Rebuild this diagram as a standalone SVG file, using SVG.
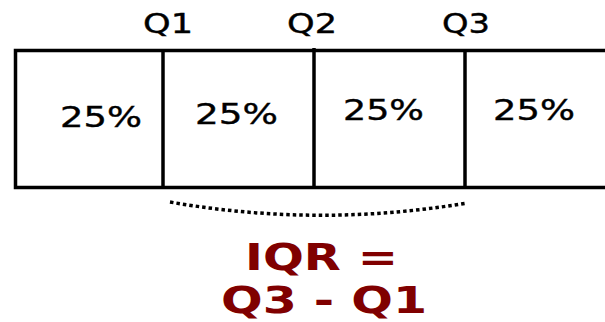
<svg xmlns="http://www.w3.org/2000/svg" width="605" height="322" viewBox="0 0 605 322">
<style>
.ln{stroke:#000;stroke-width:3.5;fill:none}
.lbl{font-family:"DejaVu Sans",sans-serif;font-size:27px;fill:#000;stroke:#000;stroke-width:0.4}
.pct{font-family:"DejaVu Sans",sans-serif;font-size:29px;fill:#000;stroke:#000;stroke-width:0.4}
.iqr{font-family:"DejaVu Sans",sans-serif;font-weight:bold;font-size:38px;fill:#800000}
</style>
<rect width="605" height="322" fill="#fff"/>
<g id="box">
<path class="ln" d="M610 50.5 H15.5 V187.5 H610"/>
</g>
<g id="cell1"><text class="pct" x="60" y="127" textLength="82" lengthAdjust="spacingAndGlyphs">25%</text></g>
<g id="cell2"><text class="pct" x="195" y="124" textLength="83" lengthAdjust="spacingAndGlyphs">25%</text></g>
<g id="cell3"><text class="pct" x="343" y="120" textLength="81" lengthAdjust="spacingAndGlyphs">25%</text></g>
<g id="cell4"><text class="pct" x="493" y="120" textLength="82" lengthAdjust="spacingAndGlyphs">25%</text></g>
<g id="q1"><path class="ln" d="M163 52 V187"/><text class="lbl" x="143" y="33" textLength="50" lengthAdjust="spacingAndGlyphs">Q1</text></g>
<g id="q2"><path class="ln" d="M314 48 V187"/><text class="lbl" x="287" y="33" textLength="50" lengthAdjust="spacingAndGlyphs">Q2</text></g>
<g id="q3"><path class="ln" d="M465 50 V187"/><text class="lbl" x="442" y="33" textLength="48" lengthAdjust="spacingAndGlyphs">Q3</text></g>
<g id="connectors">
<path d="M170 202 Q318 228 467 203" stroke="#000" stroke-width="3.5" fill="none" stroke-dasharray="3.5 3"/>
</g>
<g id="label">
<text class="iqr" x="245" y="270" textLength="153" lengthAdjust="spacingAndGlyphs">IQR =</text>
<text class="iqr" x="221" y="313" textLength="206" lengthAdjust="spacingAndGlyphs">Q3 - Q1</text>
</g>
</svg>
